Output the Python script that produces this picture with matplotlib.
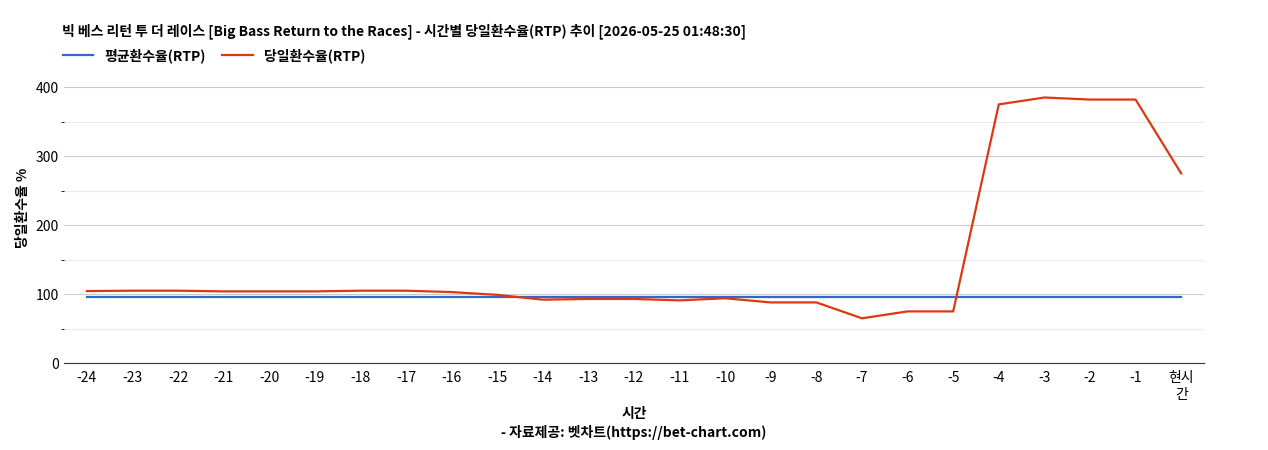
import matplotlib
matplotlib.use("Agg")
import matplotlib.pyplot as plt

plt.rcParams['font.family'] = ['Noto Sans CJK KR', 'DejaVu Sans']

categories = ['-24','-23','-22','-21','-20','-19','-18','-17','-16','-15','-14','-13','-12',
              '-11','-10','-9','-8','-7','-6','-5','-4','-3','-2','-1','현시\n간']
daily_rtp = [104.5,105,105,104,104,104,105,105,103,99,92,93,93,91,94,88,88,65,75,75,375,385,382,382,275]
avg_rtp = [95.5]*len(categories)

fig = plt.figure(figsize=(12.68,4.5), dpi=100)
ax = fig.add_axes([0.0505, 0.193, 0.899, 0.69])
x = list(range(len(categories)))
ax.plot(x, avg_rtp, color='#3366cc', lw=1.6, label='평균환수율(RTP)')
ax.plot(x, daily_rtp, color='#dc3912', lw=1.6, label='당일환수율(RTP)')
ax.set_xlim(-0.5, len(categories)-0.5)
ax.set_ylim(0, 450)
ax.set_yticks([0,100,200,300,400])
ax.set_yticks([50,150,250,350], minor=True)
ax.grid(axis='y', which='major', color='#cccccc', lw=0.8)
ax.grid(axis='y', which='minor', color='#ebebeb', lw=0.8)
ax.set_axisbelow(True)
ax.set_xticks(x)
ax.set_xticklabels(categories, fontsize=10)
ax.tick_params(axis='y', labelsize=10, length=0)
ax.tick_params(axis='x', length=0, pad=6)
for s in ['top','right','left']:
    ax.spines[s].set_visible(False)
ax.spines['bottom'].set_color('#333333')
ax.set_ylabel('당일환수율 %', fontsize=10, fontweight='bold')
ax.set_xlabel('시간\n- 자료제공: 벳차트(https://bet-chart.com)', fontsize=10, fontweight='bold', linespacing=1.3)
fig.text(0.049, 0.93, '빅 베스 리턴 투 더 레이스 [Big Bass Return to the Races] - 시간별 당일환수율(RTP) 추이 [2026-05-25 01:48:30]',
         fontsize=10, fontweight='bold', va='center')
fig.legend(loc='center left', bbox_to_anchor=(0.045, 0.877), ncol=2, frameon=False,
           prop={'size':10, 'weight':'bold'}, handlelength=2.2, columnspacing=1.2, borderaxespad=0)
fig.savefig('out.png', dpi=100)
